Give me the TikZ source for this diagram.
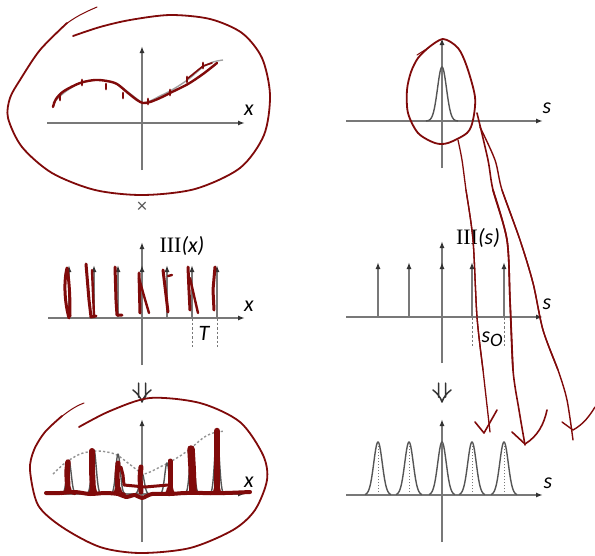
\documentclass[tikz,border=0pt]{standalone}
\usepackage{fontspec}
\setmainfont{Carlito}
\newfontfamily\shafont{Liberation Serif}
\usetikzlibrary{arrows.meta}
\definecolor{axgray}{RGB}{120,120,120}
\definecolor{tipgray}{RGB}{50,50,50}
\definecolor{crvgray}{RGB}{85,85,85}
\definecolor{annred}{RGB}{128,10,10}
\begin{document}
\begin{tikzpicture}[x=1pt,y=-1pt,
  axis/.style={draw=axgray,line width=1.4pt,-{Latex[length=7pt,width=5pt,color=tipgray]}},
  crv/.style={draw=crvgray,line width=1.4pt},
  dashln/.style={draw=axgray,line width=0.9pt,dash pattern=on 2.5pt off 2pt},
  dotln/.style={draw=axgray,line width=0.9pt,dash pattern=on 1.2pt off 1.8pt},
  dcrv/.style={draw=axgray!80,line width=1.4pt,dash pattern=on 2.2pt off 2.2pt},
  lbl/.style={font=\fontsize{22}{24}\selectfont\itshape,inner sep=0pt},
  dnst/.style={draw=crvgray!60!black,line width=1.5pt,line cap=round,line join=round},
  ann/.style={draw=annred,line width=1.8pt,line cap=round,line join=round},
  thin/.style={draw=annred,line width=1pt,line cap=round},
  scrib/.style={draw=annred,line width=3pt,line cap=round,line join=round}]
\useasboundingbox (0,0) rectangle (595,555);
\fill[white] (0,0) rectangle (595,555);

% ---------- top left ----------
\draw[axis] (47,123) -- (245,123);
\draw[axis] (142,170) -- (142,46);
\node[lbl] (xl1) at (249,110) {x};
\draw[crv,draw=axgray!70] plot[smooth] coordinates {(53,103) (65,92) (80,83) (95,80) (107,81) (117,84) (128,92) (137,99) (143,103) (150,101) (160,96) (170,91) (180,85) (190,78) (203,67) (213,62) (223,60)};
\draw[ann,line width=2.4pt] plot[smooth] coordinates {(53,107) (56,99) (64,91) (80,83) (95,80) (107,81) (117,84) (128,93) (137,100) (143,103) (150,102) (160,98) (172,92) (188,84) (203,74) (217,63)};
\draw[ann,line width=1.6pt] (187,79) -- (203,66) -- (212,63);
\foreach \px/\py in {60/95,82/80,106/84,123/93,148/99,170/90,187/77,203/63}
  \draw[ann,line width=2.8pt] (\px,\py) -- ++(0,5);
\draw[ann] plot[smooth] coordinates {(73,36) (100,27) (130,20) (170,15) (210,19) (242,33) (262,58) (270,95) (264,135) (240,168) (195,189) (143,195) (95,190) (52,173) (22,147) (8,118) (10,98) (20,80) (40,50) (67,23)};
\draw[thin] (66,24) .. controls (78,15) and (88,11) .. (97,7);

% ---------- top right ----------
\draw[axis] (346,121) -- (543,121);
\draw[axis] (442,168) -- (442,38);
\node[lbl] (sl1) at (547,108) {s};
\draw[crv] plot[domain=-16:16,samples=60] ({442+\x},{121-54*exp(-(\x*\x)/(2*20))});
\draw[ann] plot[smooth] coordinates {(428,48) (443,39) (458,48) (467,67) (475,97) (473,120) (467,133) (448,143) (435,143) (418,133) (408,113) (407,90) (411,72) (418,58) (428,48)};
\draw[thin] (417,55) -- (428,48);
% red long arrows
\draw[ann,line width=1.3pt] plot[smooth] coordinates {(458,140) (462,160) (466,190) (473,240) (477,317) (483,370) (490,432)};
\draw[ann,line width=1.6pt] (475,422) -- (484,433) -- (497,410);
\draw[ann,line width=1.6pt] plot[smooth] coordinates {(477,113) (488,160) (493,190) (507,240) (510,300) (513,370) (519,410) (525,445)};
\draw[ann,line width=1.6pt] (512,432) -- (525,444) .. controls (538,436) and (544,424) .. (547,410);
\draw[ann,line width=1.4pt] plot[smooth] coordinates {(480,127) (495,160) (502,190) (520,240) (533,283) (543,330) (558,370) (567,400) (573,440)};
\draw[ann,line width=1.4pt] (562,422) -- (573,430) .. controls (584,424) and (590,415) .. (595,407);

% ---------- times ----------
\node[font=\fontsize{20}{22}\selectfont,text=crvgray] (times) at (142,207) {×};

% ---------- middle left ----------
\draw[axis] (48,318) -- (245,318);
\draw[axis] (142,365) -- (142,242);
\foreach \dx in {69,94,118,167,192,217}
  \draw[axis] (\dx,318) -- (\dx,265);
\draw[axis] (142,280) -- (142,265);
\draw[dashln] (192,318) -- (192,347);
\draw[dashln] (217,318) -- (217,347);
\node[lbl] (T) at (204,333) {T};
\node[lbl] (sha1) at (182,246) {{\shafont\upshape III}(x)};
\node[lbl] (xl2) at (249,306) {x};
% red scribbles
\draw[scrib] (69,318) .. controls (64,300) and (64,280) .. (67,268) .. controls (70,285) and (70,305) .. (70,316);
\draw[scrib] (86,264) -- (89,300) -- (91,317) -- (96,316);
\draw[scrib,line width=2.4pt] (92,270) -- (94,316);
\draw[scrib] (115,267) -- (116,300) -- (117,315) -- (122,315);
\draw[scrib] (139,273) -- (140,313);
\draw[scrib,line width=2.4pt] (139,278) -- (144,296) -- (149,313);
\draw[scrib] (163,270) -- (166,295) -- (168,312);
\draw[scrib,line width=2.4pt] (168,276) -- (172,275);
\draw[scrib] (188,267) -- (189,290) -- (190,310);
\draw[scrib,line width=2.4pt] (190,278) -- (195,300) -- (198,313);
\draw[scrib] (215,267) -- (213,290) -- (214,310);

% ---------- middle right ----------
\draw[axis] (346,317) -- (543,317);
\draw[axis] (442,363) -- (442,241);
\foreach \dx in {378,409,472,504}
  \draw[axis] (\dx,317) -- (\dx,262);
\draw[axis] (442,277) -- (442,262);
\draw[dashln] (472,317) -- (472,346);
\draw[dashln] (504,317) -- (504,346);
\node[lbl] (so) at (492,339) {s\raisebox{-4pt}{\fontsize{19}{20}\selectfont O}};
\node[lbl] (sha2) at (478,238) {{\shafont\upshape III}(s)};
\node[lbl] (sl2) at (547,304) {s};
% redraw red lines over middle right
\draw[ann,line width=1.3pt] plot[smooth] coordinates {(466,190) (473,240) (477,317) (483,370)};
\draw[ann,line width=1.6pt] plot[smooth] coordinates {(493,190) (507,240) (510,300) (513,370)};
\draw[ann,line width=1.4pt] plot[smooth] coordinates {(502,190) (520,240) (533,283) (543,330) (558,370)};

% ---------- down arrows ----------
\foreach \cx in {142,442}
  \draw[dnst] (\cx-3.5,383) -- (\cx-3.5,397) (\cx+3.5,383) -- (\cx+3.5,397)
    (\cx-9,390) .. controls (\cx-5,393) and (\cx-1.5,397) .. (\cx,402)
    .. controls (\cx+1.5,397) and (\cx+5,393) .. (\cx+9,390);

% ---------- bottom left ----------
\draw[axis] (48,494) -- (245,494);
\draw[axis] (142,542) -- (142,419);
\node[lbl] (xl3) at (249,482) {x};
\draw[dcrv] plot[smooth] coordinates {(53,474) (65,463) (80,454) (95,451) (107,452) (117,455) (128,463) (137,470) (143,474) (150,472) (160,467) (170,462) (180,456) (190,449) (203,438) (213,433) (225,431)};
\foreach \xc/\h in {69/33,94/44,118/40,142/21,167/31,192/47,217/62}
  \draw[crv] plot[domain=-7:7,samples=30] ({\xc+\x},{494-\h*exp(-(\x*\x)/(2*5))});
% red overlay
\draw[scrib,line width=5.5pt] (68,491) -- (67,472) -- (68,462);
\draw[scrib,line width=6pt] (93,491) -- (92,470) -- (92,451);
\draw[scrib,line width=5pt] (118,491) -- (117,475) -- (118,463);
\draw[scrib,line width=3pt] (121,467) -- (123,475) -- (124,485) -- (145,487) -- (168,485);
\draw[scrib,line width=5pt] (141,492) -- (140,478) -- (141,467);
\draw[scrib,line width=5pt] (170,491) -- (170,474) -- (170,461);
\draw[scrib,line width=7.5pt] (193,491) -- (192,466) -- (191,449);
\draw[scrib,line width=6.5pt] (217,491) -- (217,460) -- (217,431);
\draw[scrib,line width=4pt] plot[smooth] coordinates {(46,493) (60,493) (75,492) (90,494) (105,493) (118,494) (126,497) (135,495) (142,498) (152,494) (170,494) (185,493) (205,493) (225,493) (250,492)};
\foreach \xc in {68,93,118,170,193,217}
  \draw[scrib,line width=2.2pt] (\xc-7,494) .. controls (\xc-3,493) .. (\xc-2,488) (\xc+2,488) .. controls (\xc+3,493) .. (\xc+7,494);
\draw[ann] plot[smooth] coordinates {(79,427) (110,411) (150,398) (200,403) (240,422) (263,455) (267,480) (255,510) (233,530) (190,548) (140,553) (100,547) (62,527) (38,505) (30,470) (34,450) (45,432) (62,416)};
\draw[thin] (61,417) .. controls (70,410) and (76,406) .. (84,403);

% ---------- bottom right ----------
\draw[axis] (346,495) -- (543,495);
\draw[axis] (442,542) -- (442,419);
\node[lbl] (sl3) at (548,483) {s};
\foreach \xc in {378,409,442,472,504} {
  \draw[crv] plot[domain=-13:13,samples=50] ({\xc+\x},{495-53*exp(-(\x*\x)/(2*18))});
  \draw[dotln] (\xc,495) -- (\xc,443);
}
\end{tikzpicture}
\end{document}
